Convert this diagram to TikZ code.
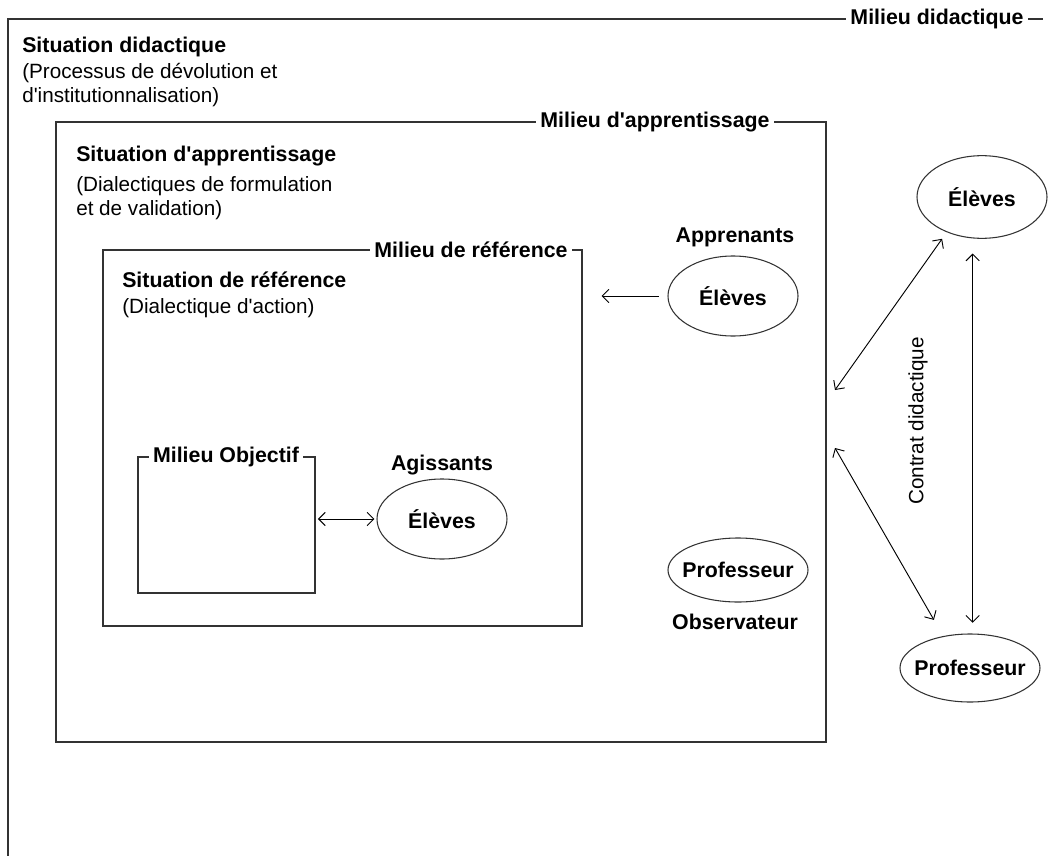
\documentclass[tikz,border=0pt]{standalone}
\usepackage{fontspec}
\setmainfont{Liberation Sans}[Ligatures=TeXOff]
\usetikzlibrary{shapes.geometric,fit,positioning,arrows.meta}

\begin{document}
\begin{tikzpicture}[x=0.75pt, y=-0.75pt]
\tikzstyle{frameStyle}=[draw=black!80, line width=1.4pt, inner sep=0pt]
\tikzstyle{tagStyle}=[fill=white, inner sep=3pt, font=\bfseries\fontsize{16}{18}\selectfont]
\tikzstyle{titleStyle}=[anchor=west, inner sep=0pt, font=\bfseries\fontsize{16}{18}\selectfont]
\tikzstyle{noteStyle}=[anchor=north west, inner sep=0pt, align=left, font=\fontsize{15.5}{18}\selectfont]
\tikzstyle{actorStyle}=[ellipse, draw=black!80, line width=0.8pt, inner ysep=0pt, inner xsep=-6pt, font=\bfseries\fontsize{16}{18}\selectfont]
\tikzstyle{roleStyle}=[inner sep=0pt, font=\bfseries\fontsize{16}{18}\selectfont]
\tikzstyle{linkStyle}=[{Straight Barb[length=5pt,width=10pt]}-{Straight Barb[length=5pt,width=10pt]}, line width=0.7pt]
\useasboundingbox (0,0) rectangle (1050,856);
% milieu didactique (open frame)
\draw[draw=black!80, line width=1.4pt] (8,856) -- (8,19) -- (1043,19);
\node[tagStyle] (tagDid) at (937,19) {Milieu didactique};
\node[titleStyle] (sitDid) at (22,47) {Situation didactique};
\node[noteStyle] (noteDid) at (22,63) {(Processus de dévolution et\\d'institutionnalisation)};
% milieu d'apprentissage
\node[frameStyle, fit={(56,122) (826,742)}] (appr) {};
\node[tagStyle] (tagAppr) at (655,122) {Milieu d'apprentissage};
\node[titleStyle] (sitAppr) at (76,156) {Situation d'apprentissage};
\node[noteStyle] (noteAppr) at (76,176) {(Dialectiques de formulation\\et de validation)};
% milieu de reference
\node[frameStyle, fit={(103,250) (582,626)}] (ref) {};
\node[tagStyle] (tagRef) at (471,250) {Milieu de référence};
\node[titleStyle] (sitRef) at (122,280) {Situation de référence};
\node[noteStyle] (noteRef) at (122,298) {(Dialectique d'action)};
% milieu objectif
\node[frameStyle, fit={(138,457) (315,593)}] (obj) {};
\node[tagStyle] (tagObj) at (226,457) {Milieu Objectif};
% acteurs
\node[roleStyle] (agis) at (442,465) {Agissants};
\node[actorStyle, minimum width=97.5pt, minimum height=60pt] (eleveAgis) at (442,519) {Élèves};
\node[roleStyle] (appren) at (735,237) {Apprenants};
\node[actorStyle, minimum width=97.5pt, minimum height=60pt] (eleveAppr) at (733,296) {Élèves};
\node[actorStyle, minimum width=105pt, minimum height=48pt] (profObs) at (738,570) {Professeur};
\node[roleStyle] (obs) at (735,622) {Observateur};
\node[actorStyle, minimum width=97.5pt, minimum height=62pt] (eleveR) at (982,197) {Élèves};
\node[actorStyle, minimum width=105pt, minimum height=51pt] (profR) at (970,668) {Professeur};
\coordinate (apprHaut) at (835,390);
\coordinate (apprBas) at (835,448);
\node[rotate=90, inner sep=0pt, font=\fontsize{15.5}{18}\selectfont] (contrat) at (918,421) {Contrat didactique};
% liens
\draw[linkStyle, shorten <=1.5pt, shorten >=1.5pt] (obj.east |- eleveAgis.west) -- (eleveAgis.west);
\draw[{Straight Barb[length=5pt,width=10pt]}-, line width=0.7pt, shorten <=14pt, shorten >=6pt] (ref.east |- eleveAppr.west) -- (eleveAppr.west);
\draw[linkStyle, shorten >=6pt] (apprHaut) -- (eleveR.225);
\draw[linkStyle, shorten >=14pt] (apprBas) -- (profR.130);
\draw[linkStyle, shorten <=11pt, shorten >=8pt] ([xshift=-7pt]eleveR.south) -- ([xshift=2pt]profR.north);
\end{tikzpicture}
\end{document}
